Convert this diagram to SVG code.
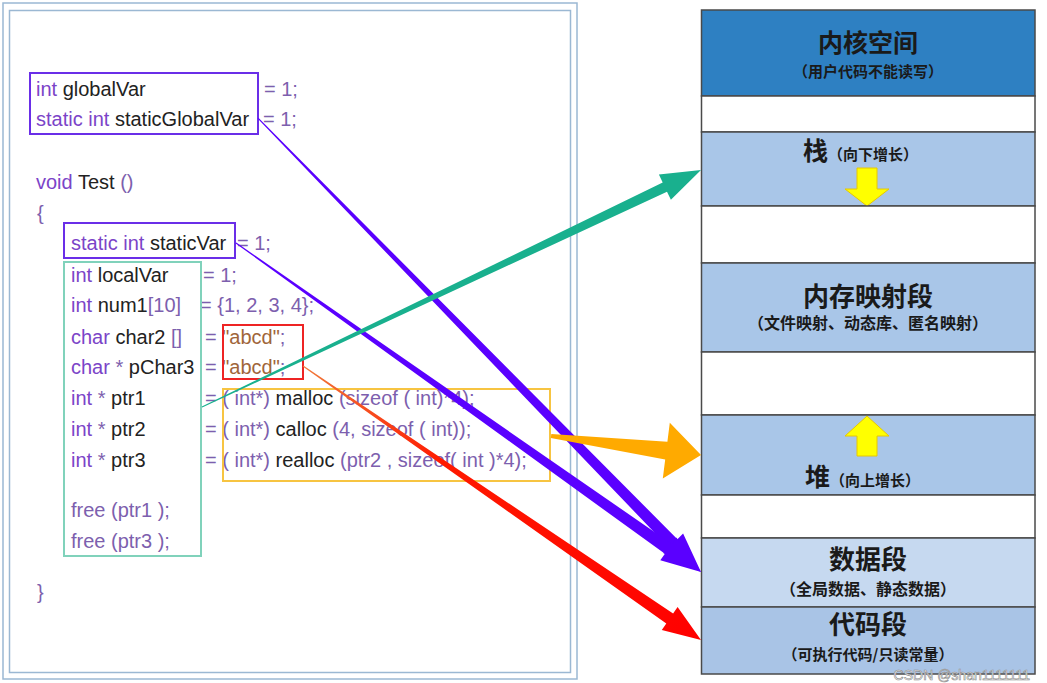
<svg xmlns="http://www.w3.org/2000/svg" width="1047" height="683" viewBox="0 0 1047 683">
<style>
.code{font-family:"Liberation Sans",Arial,sans-serif;font-size:20px;fill:#222}
.k{fill:#7b44c8}
.p{fill:#7d5fae}
.s{fill:#a0653a}
.seg{stroke:#4a4a4a;stroke-width:1.5}
.t{font-family:"Noto Sans CJK SC","Noto Sans",sans-serif;font-weight:bold;fill:#1a1a1a;text-anchor:middle}
.big{font-size:25px}
.sub{font-size:15px}
.frame{fill:none;stroke:#9bb8d3;stroke-width:1.5}
.box{fill:none;stroke-width:2}
</style>
<defs>
<linearGradient id="rg" gradientUnits="userSpaceOnUse" x1="303" y1="366" x2="701" y2="640">
<stop offset="0" stop-color="#f07a3a"/><stop offset="0.35" stop-color="#ff1a00"/><stop offset="1" stop-color="#ff0000"/>
</linearGradient>
</defs>
<rect width="1047" height="683" fill="#ffffff"/>
<g id="code-panel">
<rect class="frame" x="3" y="3" width="574" height="676"/>
<rect class="frame" x="9.5" y="10.5" width="561" height="662"/>
<text class="code" x="36" y="96"><tspan class="k">int</tspan> globalVar</text>
<text class="code p" x="264" y="96">= 1;</text>
<text class="code" x="36" y="126"><tspan class="k">static int</tspan> staticGlobalVar</text>
<text class="code p" x="263" y="126">= 1;</text>
<text class="code" x="36" y="189"><tspan class="k">void</tspan> Test <tspan class="p">()</tspan></text>
<text class="code p" x="37" y="220">{</text>
<text class="code" x="71" y="250"><tspan class="k">static int</tspan> staticVar</text>
<text class="code p" x="237" y="250">= 1;</text>
<text class="code" x="71" y="282"><tspan class="k">int</tspan> localVar</text>
<text class="code p" x="203" y="282">= 1;</text>
<text class="code" x="71" y="312"><tspan class="k">int</tspan> num1<tspan class="p">[10]</tspan></text>
<text class="code p" x="200" y="312">= {1, 2, 3, 4};</text>
<text class="code" x="71" y="344"><tspan class="k">char</tspan> char2 <tspan class="p">[]</tspan></text>
<text class="code p" x="205" y="344">= <tspan class="s">"abcd"</tspan>;</text>
<text class="code" x="71" y="374"><tspan class="k">char</tspan> <tspan class="p">*</tspan> pChar3</text>
<text class="code p" x="205" y="374">= <tspan class="s">"abcd"</tspan>;</text>
<text class="code" x="71" y="405"><tspan class="k">int</tspan> <tspan class="p">*</tspan> ptr1</text>
<text class="code p" x="205" y="405">= ( int*) <tspan fill="#222">malloc</tspan> (sizeof ( int)*4);</text>
<text class="code" x="71" y="436"><tspan class="k">int</tspan> <tspan class="p">*</tspan> ptr2</text>
<text class="code p" x="205" y="436">= ( int*) <tspan fill="#222">calloc</tspan> (4, sizeof ( int));</text>
<text class="code" x="71" y="467"><tspan class="k">int</tspan> <tspan class="p">*</tspan> ptr3</text>
<text class="code p" x="205" y="467">= ( int*) <tspan fill="#222">realloc</tspan> (ptr2 , sizeof( int )*4);</text>
<text class="code p" x="71" y="517">free (ptr1 );</text>
<text class="code p" x="71" y="548">free (ptr3 );</text>
<text class="code p" x="37" y="599">}</text>
</g>
<g id="box-globals"><rect class="box" x="30" y="73" width="228" height="61" stroke="#6a2ee8"/></g>
<g id="box-staticvar"><rect class="box" x="64" y="223" width="171" height="35" stroke="#6a2ee8"/></g>
<g id="box-locals"><rect class="box" x="64" y="262" width="137" height="294" stroke="#80d2bb"/></g>
<g id="box-literals"><rect class="box" x="223" y="325" width="80" height="54" stroke="#ee2424"/></g>
<g id="box-heap-calls"><rect class="box" x="223" y="389" width="327" height="92" stroke="#f7c441"/></g>
<g id="memory-layout">
<g id="kernel"><rect class="seg" x="701.5" y="10" width="333.5" height="86" fill="#2e80c2"/>
<text class="t big" x="868" y="52">内核空间</text><text class="t sub" x="868" y="77">（用户代码不能读写）</text></g>
<g id="gap1"><rect class="seg" x="701.5" y="96" width="333.5" height="36" fill="#ffffff"/></g>
<g id="stack"><rect class="seg" x="701.5" y="132" width="333.5" height="74" fill="#a9c6e8"/>
<text class="t" x="803" y="160" style="text-anchor:start"><tspan font-size="25">栈</tspan><tspan font-size="15">（向下增长）</tspan></text>
<polygon points="857,168 877,168 877,189 889,189 867,206 845,189 857,189" fill="#ffff00" stroke="#e8c800" stroke-width="1"/></g>
<g id="gap2"><rect class="seg" x="701.5" y="206" width="333.5" height="57" fill="#ffffff"/></g>
<g id="mmap"><rect class="seg" x="701.5" y="263" width="333.5" height="89" fill="#a9c6e8"/>
<text class="t" x="868" y="306" font-size="26">内存映射段</text><text class="t" x="868" y="329" font-size="16">（文件映射、动态库、匿名映射）</text></g>
<g id="gap3"><rect class="seg" x="701.5" y="352" width="333.5" height="63" fill="#ffffff"/></g>
<g id="heap"><rect class="seg" x="701.5" y="415" width="333.5" height="80" fill="#a9c6e8"/>
<polygon points="867,416 889,436 877,436 877,456 857,456 857,436 845,436" fill="#ffff00" stroke="#e8c800" stroke-width="1"/>
<text class="t" x="805" y="486" style="text-anchor:start"><tspan font-size="25">堆</tspan><tspan font-size="15">（向上增长）</tspan></text></g>
<g id="gap4"><rect class="seg" x="701.5" y="495" width="333.5" height="43" fill="#ffffff"/></g>
<g id="data"><rect class="seg" x="701.5" y="538" width="333.5" height="69" fill="#c6d9f0"/>
<text class="t" x="868" y="569" font-size="26">数据段</text><text class="t" x="868" y="595" font-size="16">（全局数据、静态数据）</text></g>
<g id="text-seg"><rect class="seg" x="701.5" y="607" width="333.5" height="67" fill="#a9c4e6"/>
<text class="t" x="868" y="634" font-size="26">代码段</text><text class="t" x="868" y="660" font-size="15">（可执行代码/只读常量）</text></g>
</g>
<g id="connectors">
<polygon id="c-global" points="257.6,118.4 668.8,547.5 663.1,553.1 701,572 683.1,533.6 677.4,539.2 258.4,117.7" fill="#5a00ff"/>
<polygon id="c-static" points="235.7,243.4 664.9,553.8 660.3,560.3 701,572 676.4,537.5 671.8,544.0 236.3,242.6" fill="#5a00ff"/>
<polygon id="c-literal" points="302.7,366.4 666.3,623.4 661.8,630.0 701,640 677.6,606.9 673.1,613.5 303.3,365.6" fill="url(#rg)"/>
<polygon id="c-heap" points="550.8,438.0 665.2,459.5 662.8,478.4 701,455 669.8,422.8 667.4,441.7 551.3,434.0" fill="#ffaa00"/>
<polygon id="c-stack" points="202.2,407.5 667.0,191.7 670.9,199.8 701,170 658.9,174.5 662.7,182.6 201.8,406.5" fill="#19b08e"/>
</g>
<text x="1030" y="680" text-anchor="end" font-family="Liberation Sans,Arial,sans-serif" font-size="14" fill="#ffffff" stroke="#8a8a8a" stroke-width="0.6">CSDN @shan1111111</text>
</svg>
